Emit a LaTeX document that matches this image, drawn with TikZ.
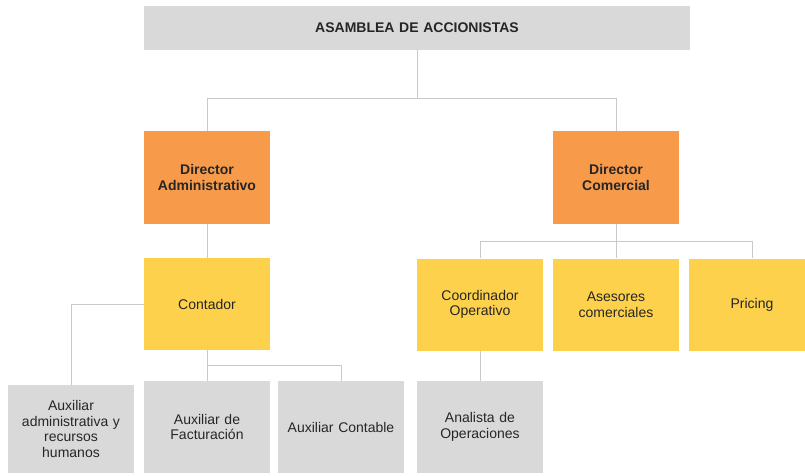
\documentclass[tikz,border=0pt]{standalone}
\usepackage{fontspec}
\setmainfont{Liberation Sans}
\usepackage{xcolor}
\definecolor{boxgray}{HTML}{D9D9D9}
\definecolor{boxorange}{HTML}{F79B4B}
\definecolor{boxyellow}{HTML}{FDD14C}
\definecolor{linegray}{HTML}{C9C9C9}

\begin{document}
\begin{tikzpicture}[x=1pt,y=-1pt,
   box/.style={inner sep=0pt, minimum width=126pt, minimum height=92pt, text width=118pt,
     align=center, font=\fontsize{14}{15.5}\selectfont, text=black!85},
   graybox/.style={box, fill=boxgray},
   orangebox/.style={box, fill=boxorange, font=\fontsize{14}{15.5}\selectfont\bfseries},
   yellowbox/.style={box, fill=boxyellow},
   link/.style={draw=linegray, line width=0.8pt}]
   \useasboundingbox (0,0) rectangle (805,476);
   \clip (0,0) rectangle (805,476);
   % top level
   \node[graybox, minimum width=546pt, minimum height=44pt, text width=500pt,
     font=\fontsize{14}{15.5}\selectfont\bfseries] (asam) at (417,28) {ASAMBLEA DE ACCIONISTAS};
   \node[orangebox, minimum height=93pt] (dadm) at (207,177.5) {Director\\Administrativo};
   \node[orangebox, minimum height=93pt] (dcom) at (616,177.5) {Director\\Comercial};
   % second level
   \node[yellowbox] (cont) at (207,304) {Contador};
   \node[yellowbox] (coord) at (480,304.5) {Coordinador\\Operativo};
   \node[yellowbox] (ases) at (616,304.5) {Asesores\\comerciales};
   \node[yellowbox] (pric) at (752,304.5) {Pricing};
   % third level
   \node[graybox, minimum height=88pt] (auxadm) at (71,429) {Auxiliar\\administrativa y\\recursos\\humanos};
   \node[graybox] (auxfac) at (207,427) {Auxiliar de\\Facturación};
   \node[graybox] (auxcon) at (341,427) {Auxiliar Contable};
   \node[graybox] (anal) at (480,427) {Analista de\\Operaciones};
   % connectors
   \coordinate (j1) at (417,98);
   \coordinate (j2) at (616,241);
   \coordinate (j3) at (207,365);
   \draw[link] (asam.south) -- (j1) -| (dadm.north);
   \draw[link] (j1) -| (dcom.north);
   \draw[link] (dadm.south) -- (cont.north);
   \draw[link] (cont.west) -| (auxadm.north);
   \draw[link] (cont.south) -- (auxfac.north);
   \draw[link] (j3) -| (auxcon.north);
   \draw[link] (dcom.south) -- (ases.north);
   \draw[link] (j2) -| (coord.north);
   \draw[link] (j2) -| (pric.north);
   \draw[link] (coord.south) -- (anal.north);
\end{tikzpicture}
\end{document}
